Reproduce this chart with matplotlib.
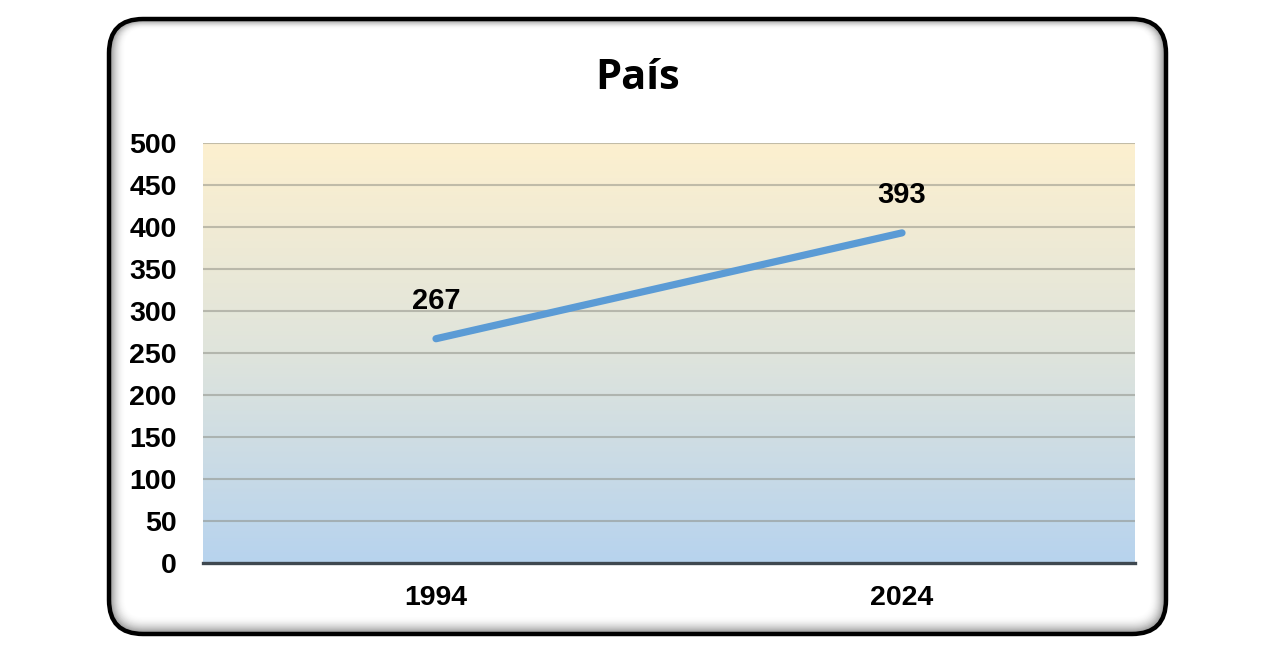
import numpy as np
import matplotlib.pyplot as plt
from matplotlib.patches import FancyBboxPatch
from matplotlib.colors import LinearSegmentedColormap

# data
years = ['1994', '2024']
values = [267, 393]
title = 'País'
yticks = [0, 50, 100, 150, 200, 250, 300, 350, 400, 450, 500]

W, H = 1275, 654
fig = plt.figure(figsize=(W / 100, H / 100), dpi=100)
fig.patch.set_facecolor('white')

# rounded frame with a soft inner shadow
frame_ax = fig.add_axes([0, 0, 1, 1])
frame_ax.set_xlim(0, W)
frame_ax.set_ylim(H, 0)
frame_ax.axis('off')
x0, y0, x1, y1 = 109, 19, 1166, 634
for i in range(16, 0, -1):
    shade = 1 - 0.45 * (1 - i / 16) ** 2
    frame_ax.add_patch(FancyBboxPatch((x0 + i, y0 + i * 0.6), (x1 - x0) - 2 * i, (y1 - y0) - i * 1.7,
                                      boxstyle='round,pad=0,rounding_size=%d' % max(34 - i, 4),
                                      facecolor='none', edgecolor=str(shade), lw=1.6))
frame_ax.add_patch(FancyBboxPatch((x0 + 16, y0 + 10), (x1 - x0) - 32, (y1 - y0) - 28,
                                  boxstyle='round,pad=0,rounding_size=20',
                                  facecolor='white', edgecolor='none'))
frame_ax.add_patch(FancyBboxPatch((x0, y0), x1 - x0, y1 - y0,
                                  boxstyle='round,pad=0,rounding_size=34',
                                  facecolor='none', edgecolor='black', lw=3.2))

# plot area
left, right, top, bottom = 203, 1135, 143, 563
ax = fig.add_axes([left / W, 1 - bottom / H, (right - left) / W, (bottom - top) / H])
ax.set_xlim(-0.5, len(years) - 0.5)
ax.set_ylim(0, 500)

cmap = LinearSegmentedColormap.from_list('bg', ['#b7d3ee', '#dfe4dc', '#fdf0cf'])
grad = np.linspace(0, 1, 256).reshape(-1, 1)
ax.imshow(grad, cmap=cmap, origin='lower', aspect='auto',
          extent=[-0.5, len(years) - 0.5, 0, 500], zorder=0)

for t in yticks[1:]:
    ax.axhline(t, color='#8a8a80', alpha=0.5, lw=1.5, zorder=1)

x = np.arange(len(years))
ax.plot(x, values, color='#5b9bd5', lw=5.2, solid_capstyle='round', zorder=3)
for xi, v in zip(x, values):
    ax.annotate(str(v), (xi, v), xytext=(0, 27), textcoords='offset points',
                ha='center', va='center', fontsize=21, fontweight='bold',
                family='Liberation Sans', zorder=4)

for s in ['top', 'right', 'left']:
    ax.spines[s].set_visible(False)
ax.spines['bottom'].set_color('#3f4850')
ax.spines['bottom'].set_linewidth(2.4)
ax.spines['bottom'].set_zorder(5)

ax.set_yticks(yticks)
ax.set_xticks(x)
ax.set_xticklabels(years)
ax.tick_params(axis='both', length=0, labelsize=20.5)
ax.tick_params(axis='y', pad=19)
ax.tick_params(axis='x', pad=16)
for lab in ax.get_xticklabels() + ax.get_yticklabels():
    lab.set_fontweight('bold')
    lab.set_family('Liberation Sans')

fig.text(638 / W, 1 - 89 / H, title, ha='center', va='baseline',
         fontsize=30, fontweight='bold', family='Open Sans')

fig.savefig('out.png', dpi=100)
